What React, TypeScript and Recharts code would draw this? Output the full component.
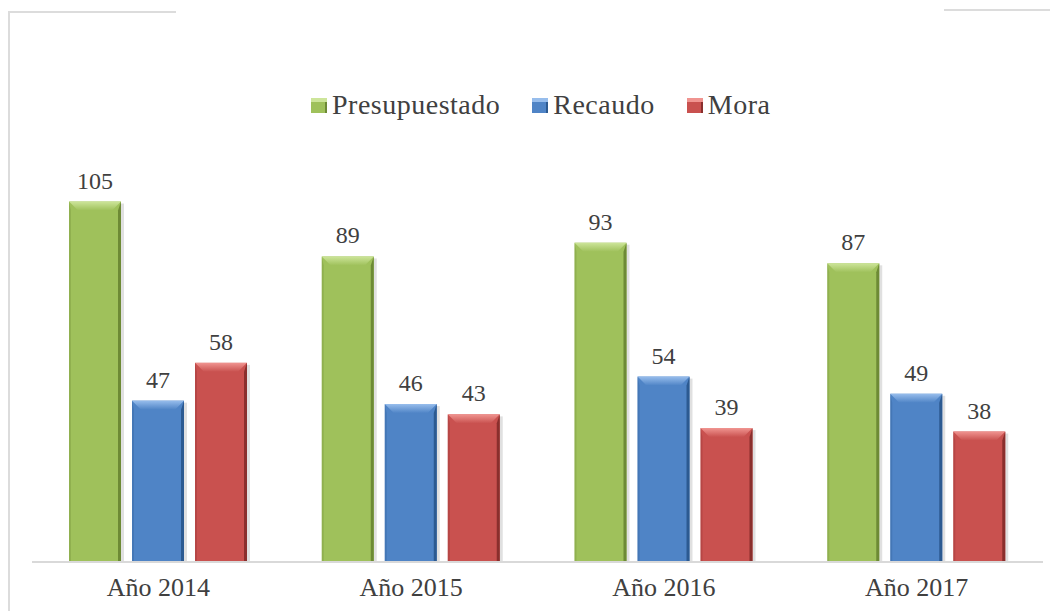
import React from 'react';
import { BarChart, Bar, XAxis, YAxis, LabelList } from 'recharts';

const categories = ['Año 2014', 'Año 2015', 'Año 2016', 'Año 2017'];
const presupuestado = [105, 89, 93, 87];
const recaudo = [47, 46, 54, 49];
const mora = [58, 43, 39, 38];

const seriesNames = ['Presupuestado', 'Recaudo', 'Mora'];

const data = categories.map((name, i) => ({
  name,
  Presupuestado: presupuestado[i],
  Recaudo: recaudo[i],
  Mora: mora[i],
}));

const FONT = 'Liberation Serif';

const palette: Record<string, { base: string; light: string; dark: string }> = {
  Presupuestado: { base: '#9fc15b', light: '#cde59a', dark: '#6d8a35' },
  Recaudo: { base: '#4f84c6', light: '#97bdec', dark: '#2c5a91' },
  Mora: { base: '#c9514f', light: '#f09490', dark: '#8a2f2d' },
};

// bar with a bevelled top edge and a darker right side
const BevelBar = (props: any) => {
  const { x, y, width: w, height: h, dataKey } = props;
  if (!h || h <= 0) return null;
  const c = palette[dataKey];
  const b = 9;
  const gid = `bev-${dataKey}`;
  return (
    <g>
      <defs>
        <linearGradient id={gid} x1="0" y1="0" x2="0" y2="1">
          <stop offset="0%" stopColor={c.light} />
          <stop offset="100%" stopColor={c.base} />
        </linearGradient>
      </defs>
      <rect x={x + 3} y={y + 2} width={w} height={h - 2} fill="#000" opacity={0.12} />
      <rect x={x} y={y} width={w} height={h} fill={c.base} />
      <polygon points={`${x},${y} ${x + w},${y} ${x + w - b},${y + b} ${x + b},${y + b}`} fill={`url(#${gid})`} />
      <polygon points={`${x + w},${y} ${x + w},${y + h} ${x + w - 3},${y + h} ${x + w - 3},${y + b}`} fill={c.dark} />
      <polygon points={`${x},${y} ${x + 2},${y + b} ${x + 2},${y + h} ${x},${y + h}`} fill={c.dark} opacity={0.3} />
    </g>
  );
};

const ValueLabel = (props: any) => {
  const { x, y, width, value } = props;
  return (
    <text
      x={x + width / 2}
      y={y - 13}
      textAnchor="middle"
      fill="#404040"
      fontSize={24}
      fontFamily={FONT}
    >
      {value}
    </text>
  );
};

const Legend = () => (
  <div
    style={{
      position: 'absolute',
      top: 90,
      left: 311,
      display: 'flex',
      alignItems: 'center',
      height: 30,
      fontFamily: FONT,
      fontSize: 28,
      letterSpacing: 0.5,
      color: '#404040',
      whiteSpace: 'nowrap',
    }}
  >
    {seriesNames.map((s, i) => (
      <div key={s} style={{ display: 'flex', alignItems: 'center', marginRight: i < 2 ? 32 : 0 }}>
        <span
          style={{
            display: 'inline-block',
            width: 16,
            height: 15,
            background: palette[s].base,
            boxShadow: `inset 0 4px 0 ${palette[s].light}, inset -2px 0 0 ${palette[s].dark}`,
            marginRight: 5,
          }}
        />
        <span>{s}</span>
      </div>
    ))}
  </div>
);

export default function App() {
  return (
    <div style={{ position: 'absolute', top: 0, left: 0, width: 1050, height: 611, background: '#fff' }}>
      <div style={{ position: 'absolute', left: 8, top: 11, width: 168, height: 2, background: '#dcdcdc' }} />
      <div style={{ position: 'absolute', left: 8, top: 11, width: 2, height: 600, background: '#dcdcdc' }} />
      <div style={{ position: 'absolute', left: 944, top: 9, width: 106, height: 2, background: '#dcdcdc' }} />
      <Legend />
      <div style={{ position: 'absolute', top: 0, left: 0 }}>
        <BarChart
          width={1050}
          height={611}
          data={data}
          margin={{ top: 150, right: 7, bottom: 9, left: 32 }}
          barSize={52}
          barGap={11}
        >
          <XAxis
            dataKey="name"
            tickLine={false}
            axisLine={{ stroke: '#d9d9d9', strokeWidth: 2 }}
            tickMargin={10}
            height={40}
            tick={{ fill: '#404040', fontSize: 26, fontFamily: FONT }}
            interval={0}
          />
          <YAxis hide domain={[0, 120]} />
          {seriesNames.map((s) => (
            <Bar key={s} dataKey={s} fill={palette[s].base} shape={BevelBar} isAnimationActive={false}>
              <LabelList dataKey={s} content={ValueLabel} />
            </Bar>
          ))}
        </BarChart>
      </div>
    </div>
  );
}
